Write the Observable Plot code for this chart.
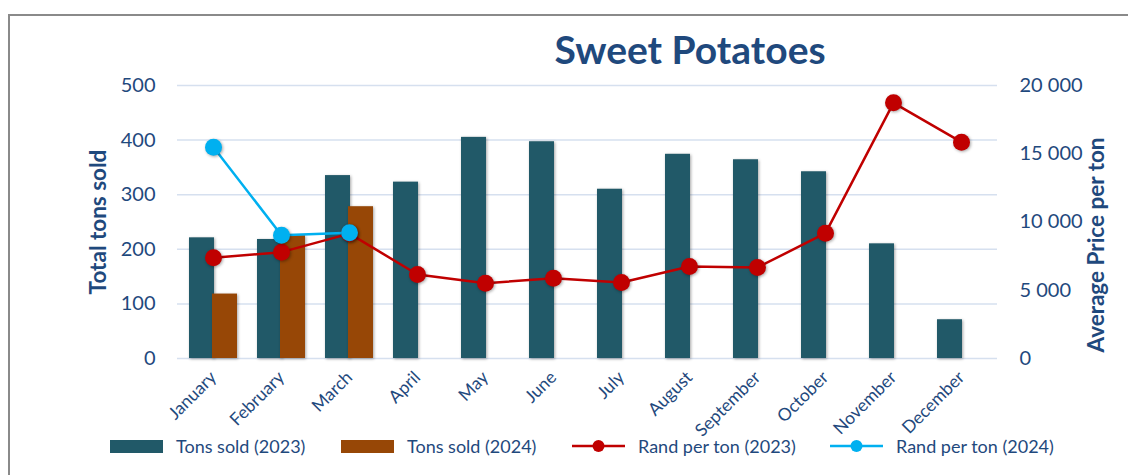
<!DOCTYPE html>
<html>
<head>
<meta charset="utf-8">
<script src="https://cdn.jsdelivr.net/npm/d3@7"></script>
<script src="https://cdn.jsdelivr.net/npm/@observablehq/plot@0.6"></script>
<style>
  html, body { margin: 0; padding: 0; background: #fff; width: 1128px; height: 475px; overflow: hidden; font-family: Lato, "Open Sans", sans-serif; }
  #frame { position: absolute; left: 8px; top: 14px; width: 1300px; height: 600px; border: 2px solid #8a8a8a; box-sizing: border-box; }
  #title { position: absolute; left: 0; width: 1380px; top: 26px; text-align: center; font-size: 39px; font-weight: bold; color: #1F497D; }
  #chart { position: absolute; left: 0; top: 70px; }
  #chart svg text { fill: #1F497D; }
  #chart g[aria-label="bar"] { filter: drop-shadow(1.5px 1.5px 1.5px rgba(0,0,0,0.35)); }
  #chart g[aria-label="dot"] { filter: drop-shadow(1.5px 1.5px 1.5px rgba(0,0,0,0.35)); }
  .axtitle { position: absolute; font-size: 22.5px; font-weight: bold; color: #1F497D; white-space: nowrap; transform: translate(-50%, -50%) rotate(-90deg); }
  .leg { position: absolute; top: 434px; height: 24px; display: flex; align-items: center; font-size: 18px; color: #1F497D; }
  .leg .sw { width: 53px; height: 13px; margin-right: 13px; }
  .leg svg { margin-right: 13px; }
</style>
</head>
<body>
<div id="frame"></div>
<div id="title">Sweet Potatoes</div>
<div id="chart"></div>
<div id="legend"></div>
<script>
const months = ["January","February","March","April","May","June","July","August","September","October","November","December"];
const tons2023 = [221, 218, 335, 323, 405, 397, 310, 374, 364, 342, 210, 71];
const tons2024 = [118, 225, 278];
const price2023 = [7380, 7790, 9150, 6150, 5520, 5880, 5570, 6740, 6670, 9180, 18730, 15850];
const price2024 = [15480, 9030, 9210];
const leftTicks = [0, 100, 200, 300, 400, 500];
const rightTicks = [0, 5000, 10000, 15000, 20000];
const axisTitles = ["Total tons sold", "Average Price per ton"];
const seriesNames = ["Tons sold (2023)", "Tons sold (2024)", "Rand per ton (2023)", "Rand per ton (2024)"];
const colors = ["#215968", "#974706", "#C00000", "#00B0F0"];

const ratio = 20000 / 500; // right axis max / left axis max
const bars23 = months.map((m, i) => ({month: m, tons: tons2023[i]}));
const bars24 = tons2024.map((v, i) => ({month: months[i], tons: v}));
const line23 = months.map((m, i) => ({month: m, price: price2023[i]}));
const line24 = price2024.map((v, i) => ({month: months[i], price: v}));
const fmt = v => d3.format(",")(v).replace(/,/g, " ");

const chart = Plot.plot({
  width: 1128,
  height: 372,
  marginLeft: 177,
  marginRight: 131,
  marginTop: 15,
  marginBottom: 84,
  style: {fontFamily: "Lato, 'Open Sans', sans-serif", fontSize: "20px", color: "#1F497D", background: "transparent"},
  x: {type: "band", domain: months, padding: 0},
  y: {domain: [0, 500]},
  marks: [
    Plot.gridY(leftTicks, {stroke: "#D6E0EF", strokeOpacity: 1, strokeWidth: 1.5}),
    Plot.axisY({anchor: "left", ticks: leftTicks, tickSize: 0, tickPadding: 22, fontSize: 20, label: null}),
    Plot.axisY({anchor: "right", ticks: rightTicks.map(v => v / ratio), tickSize: 0, tickPadding: 22, fontSize: 20,
      tickFormat: d => fmt(d * ratio), textAnchor: "start", label: null}),
    Plot.axisX({tickRotate: -45, tickSize: 0, tickPadding: 16, fontSize: 17.5, label: null}),
    Plot.barY(bars23, {x: "month", y: "tons", fill: colors[0], insetLeft: 10, insetRight: 33}),
    Plot.barY(bars24, {x: "month", y: "tons", fill: colors[1], insetLeft: 33, insetRight: 10}),
    Plot.line(line23, {x: "month", y: d => d.price / ratio, stroke: colors[2], strokeWidth: 2.5}),
    Plot.line(line24, {x: "month", y: d => d.price / ratio, stroke: colors[3], strokeWidth: 2.5}),
    Plot.dot(line23, {x: "month", y: d => d.price / ratio, fill: colors[2], r: 8.5}),
    Plot.dot(line24, {x: "month", y: d => d.price / ratio, fill: colors[3], r: 8.5})
  ]
});
document.getElementById("chart").appendChild(chart);

// axis titles
[[97, 222], [1095, 245]].forEach(([x, y], i) => {
  const d = document.createElement("div");
  d.className = "axtitle";
  d.style.left = x + "px";
  d.style.top = y + "px";
  d.textContent = axisTitles[i];
  document.body.appendChild(d);
});

// legend
const legLeft = [110, 341, 572, 830];
const legend = document.getElementById("legend");
seriesNames.forEach((name, i) => {
  const item = document.createElement("div");
  item.className = "leg";
  item.style.left = legLeft[i] + "px";
  if (i < 2) {
    const sw = document.createElement("div");
    sw.className = "sw";
    sw.style.background = colors[i];
    item.appendChild(sw);
  } else {
    const ns = "http://www.w3.org/2000/svg";
    const s = document.createElementNS(ns, "svg");
    s.setAttribute("width", 53); s.setAttribute("height", 20);
    const l = document.createElementNS(ns, "line");
    l.setAttribute("x1", 0); l.setAttribute("x2", 53); l.setAttribute("y1", 10); l.setAttribute("y2", 10);
    l.setAttribute("stroke", colors[i]); l.setAttribute("stroke-width", 2.5);
    const c = document.createElementNS(ns, "circle");
    c.setAttribute("cx", 26.5); c.setAttribute("cy", 10); c.setAttribute("r", 6);
    c.setAttribute("fill", colors[i]);
    s.appendChild(l); s.appendChild(c);
    item.appendChild(s);
  }
  const t = document.createElement("span");
  t.textContent = name;
  item.appendChild(t);
  legend.appendChild(item);
});
</script>
</body>
</html>
